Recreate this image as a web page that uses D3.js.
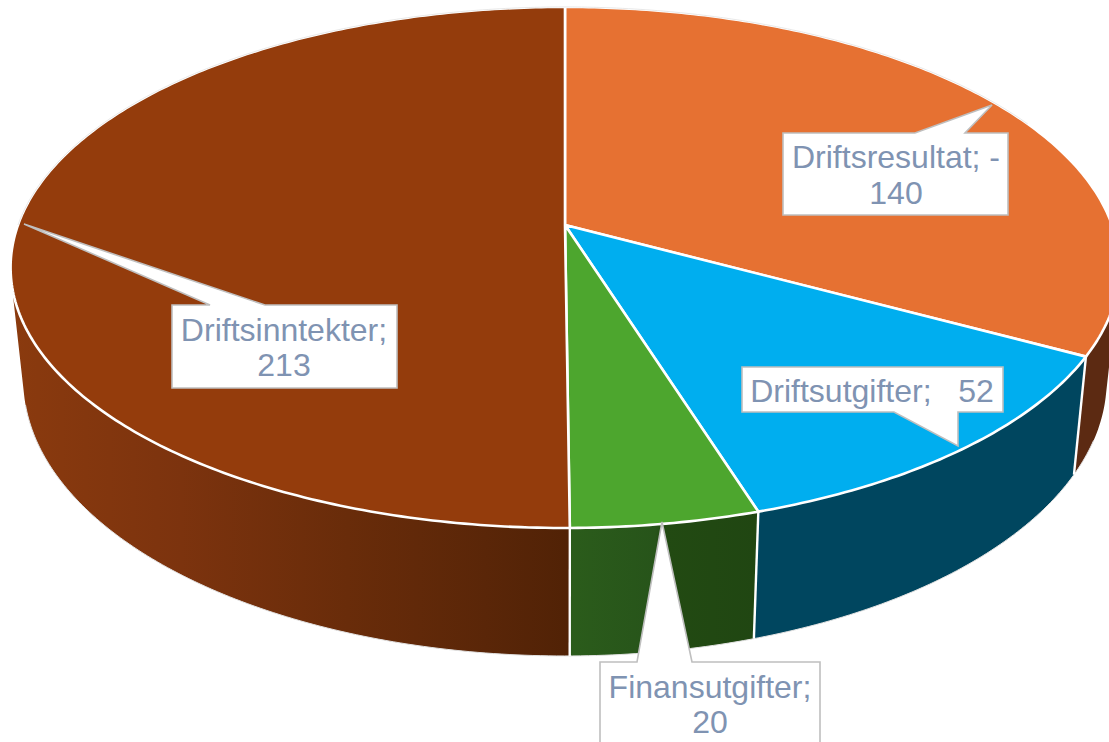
<!DOCTYPE html>
<html><head><meta charset="utf-8">
<style>html,body{margin:0;padding:0;background:#fff;overflow:hidden}svg{display:block}</style>
<script src="https://cdn.jsdelivr.net/npm/d3@7/dist/d3.min.js"></script>
</head><body><svg id="c" width="1109" height="742"></svg>
<script>
const categories=["Driftsresultat","Driftsutgifter","Finansutgifter","Driftsinntekter"];
const values=[140,52,20,213];
const topColors=["#e67132","#00aeef","#4da62e","#943c0c"];
const labelLines=[["Driftsresultat; -","140"],["Driftsutgifter;   52"],["Finansutgifter;","20"],["Driftsinntekter;","213"]];

const W=1109,H=742;
const svg=d3.select("#c");
const defs=svg.append("defs");
// projection of the disc seen in perspective
const cx=565,cy=225,A=547,B=253.6,k=0.163;
const sx=d3.scaleLinear().domain([-1,1]).range([cx-A,cx+A]);
const sy=d3.scaleLinear().domain([-1,1]).range([cy-B,cy+B]);
function topPt(t){const X=Math.sin(t),Y=-Math.cos(t),d=1-k*Y;
  return [sx(X/d),sy(Y/d)];}
function botPt(t){const p=topPt(t);
  return [cx+0.977*(p[0]-cx),335.4+1.058*(p[1]-cy)];}
function samples(a,b){const n=Math.max(8,Math.ceil((b-a)*80));
  return d3.range(n+1).map(i=>a+(b-a)*i/n);}
const line=d3.line();
const arcs=d3.pie().sort(null).value(d=>d).startAngle(0).endAngle(2*Math.PI)(values);

function grad(id,stops,x1,x2){
  const g=defs.append("linearGradient").attr("id",id).attr("gradientUnits","userSpaceOnUse")
    .attr("x1",x1).attr("x2",x2).attr("y1",0).attr("y2",0);
  stops.forEach(s=>g.append("stop").attr("offset",s[0]).attr("stop-color",s[1]));
}
grad("w0",[[0,"#5c2a12"],[1,"#5c2a12"]],1070,1109);
grad("w1",[[0,"#00465f"],[1,"#00465f"]],760,1080);
grad("w2",[[0,"#2b5c1b"],[0.45,"#27541a"],[0.5,"#224a12"],[1,"#204612"]],569,760);
grad("w3",[[0,"#8a3a0e"],[0.3,"#7c330e"],[0.6,"#692c0a"],[0.85,"#5a2608"],[1,"#512206"]],14,569);
const wallFill=["url(#w0)","url(#w1)","url(#w2)","url(#w3)"];

// side walls: a ruled band of quads, all wound the same way so the silhouette is filled
function wallPath(d){
  const t=samples(d.startAngle,d.endAngle);let s="";
  for(let i=0;i<t.length-1;i++){
    let q=[topPt(t[i]),topPt(t[i+1]),botPt(t[i+1]),botPt(t[i])];
    if(d3.polygonArea(q)<0)q.reverse();
    s+=line(q)+"Z";
  }
  return s;
}
svg.append("g").selectAll("path").data(arcs).join("path")
  .attr("d",wallPath)
  .attr("fill",(d,i)=>wallFill[i]);
// outer rim under the wall
svg.append("path").attr("fill","none").attr("stroke","#e2e2e2").attr("stroke-width",1)
  .attr("d",line(samples(Math.PI*0.62,Math.PI*1.42).map(botPt)));
// white dividers between the wall segments
svg.append("g").selectAll("line").data(arcs.slice(0,3)).join("line")
  .attr("x1",d=>topPt(d.endAngle)[0]).attr("y1",d=>topPt(d.endAngle)[1])
  .attr("x2",d=>botPt(d.endAngle)[0]).attr("y2",d=>botPt(d.endAngle)[1])
  .attr("stroke","#fff").attr("stroke-width",2.4);

// top face
svg.append("g").selectAll("path").data(arcs).join("path")
  .attr("d",d=>line([[cx,cy]].concat(samples(d.startAngle,d.endAngle).map(topPt)))+"Z")
  .attr("fill",(d,i)=>topColors[i])
  .attr("stroke","#fff").attr("stroke-width",2.6).attr("stroke-linejoin","round");
svg.append("path").attr("fill","none").attr("stroke","#e2e2e2").attr("stroke-width",0.8)
  .attr("d",line(samples(-Math.PI*0.5,Math.PI*0.36).map(topPt)));

// callouts: box [x0,y0,x1,y1], pointer base on an edge and tip
const callouts=[
 {box:[783,133,1008,215],edge:"top",base:[915,965],tip:[992,105],tx:896,ty:[168,204]},
 {box:[742,367,1003,412],edge:"bottom",base:[894,958],tip:[958,446],tx:872,ty:[402]},
 {box:[600,662,820,760],edge:"top",base:[637,692],tip:[662,522],tx:710,ty:[698,733]},
 {box:[172,305,397,388],edge:"top",base:[210,265],tip:[24,224],tx:284,ty:[341,376]}
];
const gc=svg.append("g");
callouts.forEach((c,i)=>{
  const [x0,y0,x1,y1]=c.box,[b0,b1]=c.base;
  const pts=c.edge==="top"
   ?[[x0,y0],[b0,y0],c.tip,[b1,y0],[x1,y0],[x1,y1],[x0,y1]]
   :[[x0,y0],[x1,y0],[x1,y1],[b1,y1],c.tip,[b0,y1],[x0,y1]];
  gc.append("path").attr("d",line(pts)+"Z").attr("fill","#fff")
    .attr("stroke","#bfbfbf").attr("stroke-width",1.6).attr("stroke-linejoin","miter");
  labelLines[i].forEach((s,j)=>{
    gc.append("text").attr("x",c.tx).attr("y",c.ty[j]).attr("text-anchor","middle")
      .attr("font-family","'Liberation Sans',Arial,sans-serif").attr("font-size",32)
      .attr("fill","#7f93b2").style("white-space","pre").text(s);
  });
});
</script></body></html>
